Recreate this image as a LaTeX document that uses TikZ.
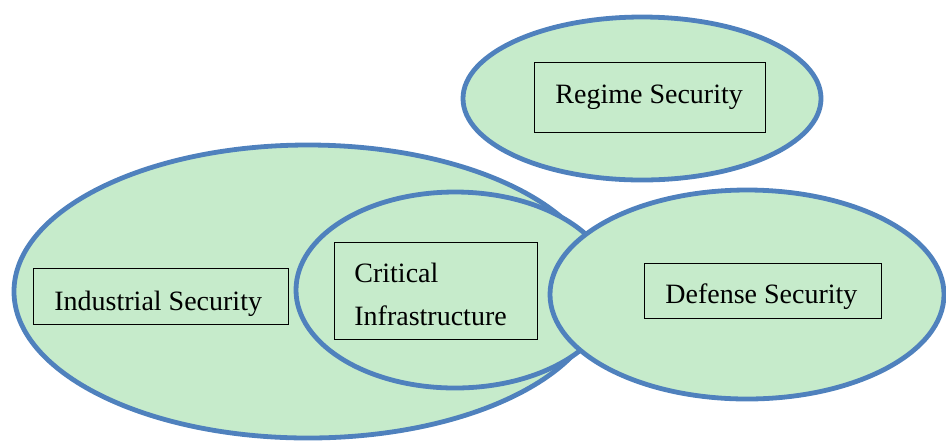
\documentclass[tikz,border=0pt]{standalone}
\usepackage{fontspec}
\setmainfont{Liberation Serif}
\usetikzlibrary{shapes.geometric}
\definecolor{blobfill}{RGB}{198,235,203}
\definecolor{blobline}{RGB}{79,129,189}
\begin{document}
\begin{tikzpicture}[x=0.5pt,y=-0.5pt,
  blob/.style={ellipse, draw=blobline, fill=blobfill, line width=2.4pt, inner sep=0pt, outer sep=0pt},
  tag/.style={draw=black, line width=0.5pt, inner sep=0pt, outer sep=0pt},
  lbl/.style={font=\fontsize{14pt}{21.5pt}\selectfont, inner sep=0pt, anchor=base west, align=left}]
\useasboundingbox (0,0) rectangle (946,441);
\node[blob, minimum width=294pt, minimum height=146.5pt] (ind) at (308,291.5) {};
\node[blob, minimum width=159pt, minimum height=98pt] (crit) at (455,290) {};
\node[blob, minimum width=197pt, minimum height=104.5pt] (def) at (747,294.5) {};
\node[blob, minimum width=179pt, minimum height=81.5pt] (reg) at (642,98.5) {};
% boxes
\node[tag, minimum width=115.5pt, minimum height=35pt] (regbox) at (649.5,97) {};
\node[tag, minimum width=127.5pt, minimum height=28pt] (indbox) at (160.5,296) {};
\node[tag, minimum width=101.5pt, minimum height=48.5pt] (critbox) at (435.5,290.5) {};
\node[tag, minimum width=118.5pt, minimum height=27.5pt] (defbox) at (762.5,290.5) {};
% labels
\node[lbl] (regtxt) at (555,103) {Regime Security};
\node[lbl] (indtxt) at (54,310) {Industrial Security};
\node[lbl] (crittxt) at (354,325) {Critical\\Infrastructure};
\node[lbl] (deftxt) at (665,303) {Defense Security};
\end{tikzpicture}
\end{document}
